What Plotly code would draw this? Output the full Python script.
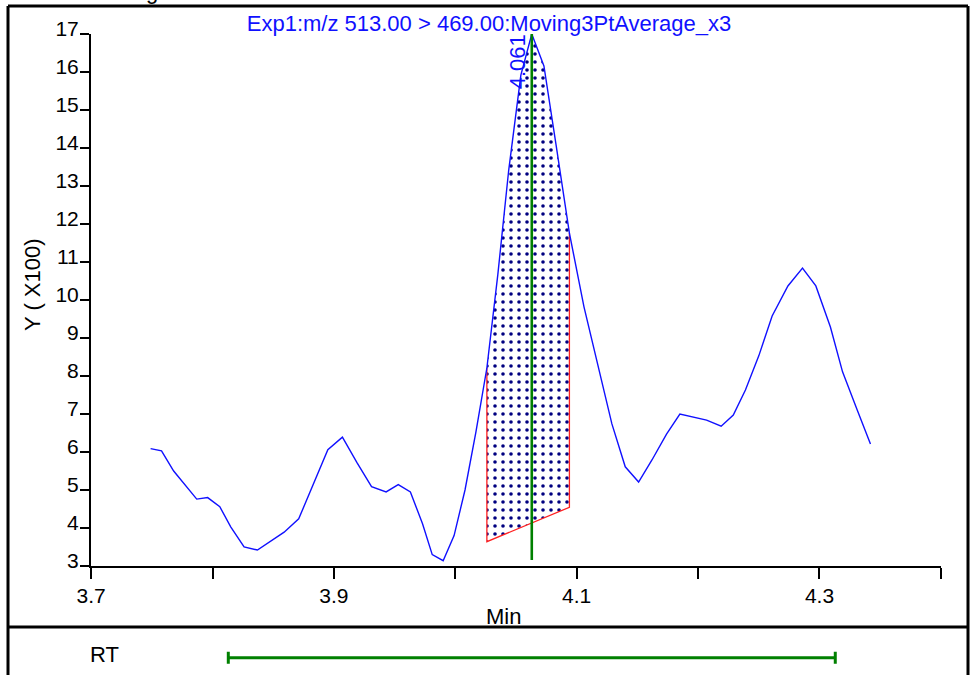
import plotly.graph_objects as go

# ---- data ----
time_min = [3.749, 3.758, 3.768, 3.777, 3.787, 3.796, 3.806, 3.815, 3.826, 3.837,
            3.848, 3.859, 3.871, 3.883, 3.895, 3.907, 3.919, 3.931, 3.943, 3.953,
            3.963, 3.973, 3.981, 3.990, 3.999, 4.008, 4.017, 4.026, 4.035, 4.044,
            4.054, 4.063, 4.073, 4.083, 4.094, 4.106, 4.117, 4.129, 4.140, 4.151,
            4.162, 4.174, 4.185, 4.196, 4.207, 4.219, 4.229, 4.239, 4.250, 4.261,
            4.274, 4.286, 4.297, 4.309, 4.319, 4.331, 4.342]
intensity_x100 = [6.09, 6.03, 5.50, 5.16, 4.76, 4.80, 4.56, 4.03, 3.50, 3.42,
                  3.66, 3.89, 4.24, 5.16, 6.06, 6.39, 5.72, 5.09, 4.95, 5.14,
                  4.95, 4.11, 3.30, 3.14, 3.80, 5.00, 6.53, 8.21, 10.66, 13.42,
                  15.92, 17.00, 16.16, 14.08, 11.76, 9.82, 8.34, 6.74, 5.61, 5.21,
                  5.79, 6.47, 7.00, 6.92, 6.84, 6.68, 6.97, 7.63, 8.53, 9.58,
                  10.37, 10.84, 10.37, 9.29, 8.11, 7.11, 6.21]

baseline_x = [4.026, 4.094]
baseline_y = [3.64, 4.545]

rt_apex = 4.063
rt_label = "4.061"
rt_line_bottom = 3.16
rt_window = 0.25

x_tick_vals = [3.7, 3.8, 3.9, 4.0, 4.1, 4.2, 4.3, 4.4]
x_tick_text = ["3.7", "", "3.9", "", "4.1", "", "4.3", ""]
y_tick_vals = list(range(3, 18))

title_text = "Exp1:m/z 513.00 > 469.00:Moving3PtAverage_x3"

FONT = "Liberation Sans, Arial, sans-serif"
FS = 22

# ---- integrated region ----
seg = [(t, v) for t, v in zip(time_min, intensity_x100)
       if baseline_x[0] - 1e-9 <= t <= baseline_x[1] + 1e-9]
fill_x = [t for t, _ in seg] + [baseline_x[1], baseline_x[0]]
fill_y = [v for _, v in seg] + [baseline_y[1], baseline_y[0]]

fig = go.Figure()

fig.add_trace(go.Scatter(
    x=fill_x, y=fill_y, mode="lines", fill="toself",
    line=dict(width=0, color="rgba(0,0,0,0)"),
    fillcolor="white",
    fillpattern=dict(shape=".", fgcolor="#000080", bgcolor="white",
                     size=8, solidity=0.16, fgopacity=1),
    hoverinfo="skip", showlegend=False))

# red edges of the integrated area
fig.add_trace(go.Scatter(
    x=[seg[0][0], baseline_x[0], baseline_x[1], seg[-1][0]],
    y=[seg[0][1], baseline_y[0], baseline_y[1], seg[-1][1]],
    mode="lines", line=dict(color="#ff2020", width=1.3),
    hoverinfo="skip", showlegend=False))

# chromatogram
fig.add_trace(go.Scatter(
    x=time_min, y=intensity_x100, mode="lines",
    line=dict(color="#1010ff", width=1.4),
    showlegend=False))

# RT marker line
fig.add_trace(go.Scatter(
    x=[rt_apex, rt_apex], y=[rt_line_bottom, max(intensity_x100)],
    mode="lines", line=dict(color="#008000", width=2.6),
    showlegend=False))

# RT window bar in bottom strip
fig.add_trace(go.Scatter(
    x=[rt_apex], y=[0], mode="markers", marker=dict(size=1, color="rgba(0,0,0,0)"),
    error_x=dict(type="data", array=[rt_window], symmetric=True,
                 color="#008000", thickness=3, width=6),
    xaxis="x2", yaxis="y2", showlegend=False, hoverinfo="skip"))

# layout geometry (page pixels; body margin removed below)
W, H = 971, 675
PLOT_L, PLOT_R, PLOT_T = 91, 941, 34
L = PLOT_L
R = W - PLOT_R
T = PLOT_T
B = 0
PW, PH = W - L - R, H - T - B

def px(xp):
    return (xp - L) / PW

def py(yp):
    return (H - B - yp) / PH

main_bottom = py(566)

fig.update_layout(
    width=W, height=H,
    margin=dict(l=L, r=R, t=T, b=B, autoexpand=False),
    paper_bgcolor="white", plot_bgcolor="white",
    font=dict(family=FONT, size=FS, color="black"),
    title=dict(text=title_text, x=489 / W, xref="container", xanchor="center",
               y=1 - 23 / H, yref="container", yanchor="middle",
               font=dict(family=FONT, size=FS, color="#1010ff")),
    xaxis=dict(domain=[0, 1], anchor="y", range=[3.6999, 4.4001],
               tickmode="array", tickvals=x_tick_vals, ticktext=x_tick_text,
               ticks="outside", ticklen=11, tickwidth=2, tickcolor="black",
               showline=True, linewidth=2, linecolor="black",
               showgrid=False, zeroline=False, automargin=False,
               ticklabelstandoff=-1,
               tickfont=dict(family=FONT, size=FS - 1, color="black")),
    yaxis=dict(domain=[main_bottom, 1], anchor="x", range=[3, 17],
               tickmode="array", tickvals=y_tick_vals,
               ticks="outside", ticklen=9, tickwidth=2, tickcolor="black",
               showline=True, linewidth=2, linecolor="black",
               showgrid=False, zeroline=False, automargin=False,
               ticklabelstandoff=-3, ticklabelshift=-5,
               tickfont=dict(family=FONT, size=FS - 1, color="black")),
    xaxis2=dict(domain=[0, 1], anchor="y2", matches="x", visible=False),
    yaxis2=dict(domain=[0, py(657.7) * 2], range=[-1, 1], visible=False),
    annotations=[
        dict(text="Y ( X100)", textangle=-90, x=px(32), y=py(285),
             xref="paper", yref="paper", showarrow=False,
             xanchor="center", yanchor="middle",
             font=dict(family=FONT, size=FS, color="black")),
        dict(text="Min", x=px(503), y=py(616), xref="paper", yref="paper",
             showarrow=False, xanchor="center", yanchor="middle",
             font=dict(family=FONT, size=FS, color="black")),
        dict(text="RT", x=px(104), y=py(654), xref="paper", yref="paper",
             showarrow=False, xanchor="center", yanchor="middle",
             font=dict(family=FONT, size=FS, color="black")),
        dict(text=rt_label, textangle=-90, x=4.051, y=16.26,
             xref="x", yref="y", showarrow=False,
             xanchor="center", yanchor="middle",
             font=dict(family=FONT, size=FS, color="#1010ff")),
        dict(text="Smoothing", x=px(160), y=py(6), xref="paper", yref="paper",
             showarrow=False, xanchor="right", yanchor="bottom",
             font=dict(family=FONT, size=FS, color="black")),
    ],
    shapes=[
        dict(type="line", xref="paper", yref="paper", x0=px(8), x1=px(968),
             y0=py(6), y1=py(6), line=dict(color="black", width=3)),
        dict(type="line", xref="paper", yref="paper", x0=px(8), x1=px(8),
             y0=py(6), y1=py(690), line=dict(color="black", width=3)),
        dict(type="line", xref="paper", yref="paper", x0=px(968), x1=px(968),
             y0=py(6), y1=py(690), line=dict(color="black", width=3)),
        dict(type="line", xref="paper", yref="paper", x0=px(8), x1=px(968),
             y0=py(627), y1=py(627), line=dict(color="black", width=3)),
    ],
)

fig.write_html(
    "out.html",
    config={"displayModeBar": False},
    post_script="document.body.style.margin='0';document.body.style.overflow='hidden';",
)
